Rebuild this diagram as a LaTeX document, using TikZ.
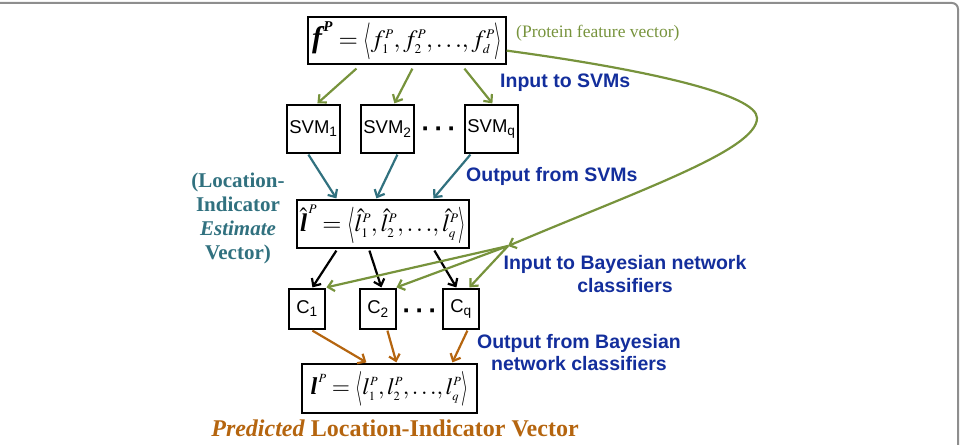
\documentclass[tikz,border=0pt]{standalone}
\usepackage{mathptmx}
\usepackage{amsmath}
\usepackage{graphicx}
\usepackage{fontspec}
\setmainfont{Liberation Serif}
\setsansfont{Liberation Sans}
\usetikzlibrary{arrows.meta,calc}
\DeclareMathSizes{30}{30}{16}{12}
\definecolor{ogreen}{HTML}{77933C}
\definecolor{tealc}{HTML}{31717F}
\definecolor{lblue}{HTML}{132E9C}
\definecolor{oranc}{HTML}{B5650F}
\definecolor{framec}{HTML}{8E8E8E}
\newcommand{\bif}[1]{\text{\fontsize{36}{36}\selectfont\bfseries\itshape #1}}
\newcommand{\bil}[1]{\text{\fontsize{31}{31}\selectfont\bfseries\itshape #1}}
\newcommand{\bsup}[1]{\text{\fontsize{18}{18}\selectfont\bfseries\itshape #1}}
\newcommand{\lbr}{\mathopen{\vcenter{\hbox{\resizebox*{9pt}{44pt}{$\langle$}}}}}
\newcommand{\rbr}{\mathclose{\vcenter{\hbox{\resizebox*{9pt}{44pt}{$\rangle$}}}}}
\newcommand{\tdots}{{.}\mkern2mu{.}\mkern2mu{.}}
\newcommand{\cm}{{,}\mkern2mu}
\begin{document}
\begin{tikzpicture}[x=1pt,y=-1pt,
  eqbox/.style={draw, line width=1.2pt, inner sep=0pt, font=\fontsize{30}{32}\selectfont},
  smallbox/.style={draw, line width=1.2pt, inner sep=0pt, font=\sffamily\fontsize{18.5}{20}\selectfont},
  arr/.style={line width=2.2pt, -{Straight Barb[length=6pt,width=11pt]}},
  blab/.style={text=lblue, font=\sffamily\bfseries\fontsize{19.5}{22}\selectfont, inner sep=0pt},
  dots/.style={font=\sffamily\bfseries\fontsize{26}{26}\selectfont, inner sep=0pt}
]
\useasboundingbox (0,0) rectangle (960,444);
\draw[framec, line width=2pt, rounded corners=6pt] (0,3) -- (958,3) -- (958,446);

% equation boxes
\node[eqbox, minimum width=198pt, minimum height=47pt] (fp) at (407,40.5)
  {\resizebox{190pt}{!}{$\bif{f}^{\,\bsup{P}}=\lbr f_1^P\cm f_2^P\cm\tdots\cm f_d^P \rbr$}};
\node[eqbox, minimum width=172pt, minimum height=48pt] (lh) at (383,224)
  {\resizebox{166pt}{!}{$\hat{\bil{l}}^{\,P}=\lbr \hat{l}_1^P\cm\hat{l}_2^P\cm\tdots\cm\hat{l}_q^P \rbr$}};
\node[eqbox, minimum width=175pt, minimum height=49pt] (lp) at (389.5,388.5)
  {\resizebox{158pt}{!}{$\bil{l}^{\,P}=\lbr l_1^P\cm l_2^P\cm\tdots\cm l_q^P \rbr$}};

% SVM boxes
\node[smallbox, minimum width=53pt, minimum height=48pt] (s1) at (313.5,129) {SVM\textsubscript{1}};
\node[smallbox, minimum width=53pt, minimum height=48pt] (s2) at (387.5,129) {SVM\textsubscript{2}};
\node[smallbox, minimum width=53pt, minimum height=48pt] (sq) at (491.5,129) {SVM\textsubscript{q}};
\node[dots] (sd) at (439,132) {·\,·\,·};

% classifier boxes
\node[smallbox, minimum width=36pt, minimum height=40pt] (c1) at (307,309) {C\textsubscript{1}};
\node[smallbox, minimum width=36pt, minimum height=40pt] (c2) at (378,309) {C\textsubscript{2}};
\node[smallbox, minimum width=36pt, minimum height=40pt] (cq) at (461,309) {C\textsubscript{q}};
\node[dots] (cd) at (420,314) {·\,·\,·};

% labels
\node[anchor=west, text=ogreen, font=\fontsize{17.5}{20}\selectfont, inner sep=0pt] (pfv) at (516,33) {(Protein feature vector)};
\node[blab, anchor=west] (ins) at (500,83) {Input to SVMs};
\node[blab, anchor=west] (outs) at (466,176) {Output from SVMs};
\node[blab, align=center, font=\sffamily\bfseries\fontsize{19.5}{23}\selectfont] (inb) at (625,274) {Input to Bayesian network\\classifiers};
\node[blab, align=center, font=\sffamily\bfseries\fontsize{19.5}{22}\selectfont] (outb) at (579,353) {Output from Bayesian\\network classifiers};
\node[text=tealc, align=center, font=\bfseries\fontsize{21}{24}\selectfont, inner sep=0pt] (liev) at (238,218) {(Location-\\Indicator\\\textit{Estimate}\\Vector)};
\node[text=oranc, font=\bfseries\fontsize{24}{26}\selectfont, inner sep=0pt] (pliv) at (395,428) {\textit{Predicted} Location-Indicator Vector};

% f -> SVM
\draw[arr, ogreen] ($(fp.south west)+(49,4)$) -- ($(s1.north west)+(31,-1)$);
\draw[arr, ogreen] ($(fp.south west)+(105,4)$) -- ($(s2.north west)+(34,-1)$);
\draw[arr, ogreen] ($(fp.south west)+(157,4)$) -- ($(sq.north west)+(28,-1)$);

% SVM -> lhat
\draw[arr, tealc] ($(s1.south west)+(22,1)$) -- ($(lh.north west)+(40,-1)$);
\draw[arr, tealc] ($(s2.south west)+(37,1)$) -- ($(lh.north west)+(80,-1)$);
\draw[arr, tealc] ($(sq.south west)+(6,1)$) -- ($(lh.north west)+(137,-1)$);

% lhat -> C
\draw[arr, black] ($(lh.south west)+(40,2)$) -- ($(c1.north west)+(24,-1)$);
\draw[arr, black] ($(lh.south west)+(73,2)$) -- ($(c2.north west)+(22,-1)$);
\draw[arr, black] ($(lh.south west)+(138,2)$) -- ($(cq.north west)+(14,-1)$);

% long curve and hub
\coordinate (hub) at (508,246);
\coordinate (fs) at ($(fp.south east)+(0,-14)$);
\draw[arr, ogreen] (fs) .. controls (650,70) and (757,95) .. (757,118)
  .. controls (757,150) and (640,190) .. (hub);
\draw[arr, ogreen] (hub) -- ($(c1.north west)+(38,-1)$);
\draw[arr, ogreen] (hub) -- ($(c2.north west)+(37,-1)$);
\draw[arr, ogreen] (hub) -- ($(cq.north west)+(27,-1)$);

% C -> l
\draw[arr, oranc] ($(c1.south west)+(24,1)$) -- ($(lp.north west)+(65,-1)$);
\draw[arr, oranc] ($(c2.south west)+(28,1)$) -- ($(lp.north west)+(95,-1)$);
\draw[arr, oranc] ($(cq.south west)+(25,1)$) -- ($(lp.north west)+(151,-1)$);
\end{tikzpicture}
\end{document}
